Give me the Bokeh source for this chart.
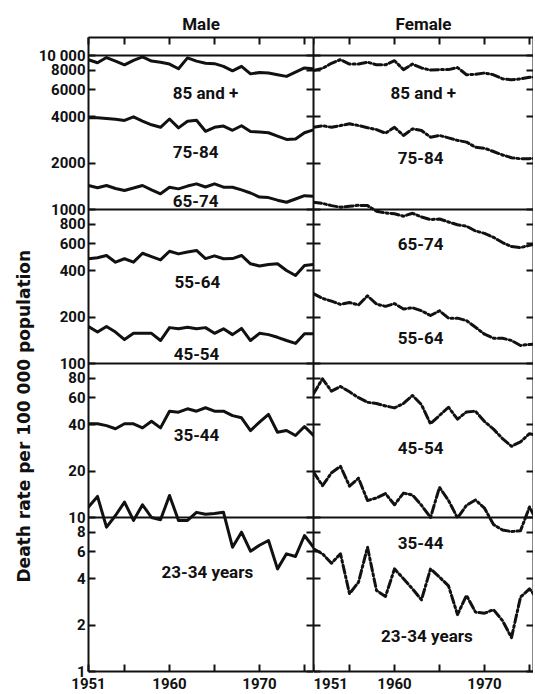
from bokeh.plotting import figure
from bokeh.models import (Range1d, FixedTicker, Span, Title, LogAxis, LinearAxis,
                          CustomLabelingPolicy, CustomJSTickFormatter)
from bokeh.layouts import row
from bokeh.embed import file_html
from bokeh.resources import INLINE
from bokeh.core.properties import value

FONT = "Roboto"
LABEL_FONT = "DejaVu Sans"

years = list(range(1951, 1977))

# ---- Male death rates per 100 000 ----
male_85_plus = [9380, 8970, 9700, 9190, 8700, 9300, 9800, 9200, 9050, 8800, 8200, 9650, 9200,
                8900, 8850, 8500, 7950, 8500, 7600, 7750, 7700, 7500, 7320, 7800, 8300, 8200]
male_75_84 = [3940, 3940, 3900, 3850, 3790, 4000, 3750, 3550, 3420, 3870, 3390, 3740, 3800,
              3220, 3420, 3480, 3270, 3500, 3210, 3190, 3150, 3000, 2850, 2870, 3150, 3290]
male_65_74 = [1432, 1384, 1432, 1370, 1330, 1380, 1432, 1342, 1265, 1396, 1362, 1420, 1468,
              1400, 1468, 1396, 1396, 1340, 1280, 1205, 1195, 1150, 1115, 1170, 1230, 1220]
male_55_64 = [479, 486, 503, 455, 479, 455, 520, 495, 471, 536, 515, 530, 542,
              480, 500, 479, 480, 503, 444, 430, 440, 444, 402, 373, 433, 440]
male_45_54 = [174, 160, 174, 160, 143, 157, 157, 157, 141, 171, 168, 172, 168,
              171, 157, 168, 154, 169, 141, 157, 154, 148, 141, 135, 156, 156]
male_35_44 = [40.6, 40.6, 39.5, 37.7, 40.6, 40.6, 38.2, 42.2, 38.2, 49.0, 48.3, 50.8, 49.0,
              51.6, 49.0, 49.0, 45.9, 44.4, 36.7, 41.6, 46.7, 35.8, 36.7, 34.1, 39.0, 34.1]
male_23_34 = [11.7, 13.7, 8.65, 10.3, 12.6, 9.57, 12.1, 10.0, 9.66, 13.9, 9.57, 9.57, 10.8,
              10.5, 10.6, 10.8, 6.41, 8.03, 6.04, 6.6, 7.09, 4.64, 5.81, 5.58, 7.64, 6.41]

# ---- Female death rates per 100 000 ----
female_85_plus = [8000, 8250, 8900, 9400, 8800, 8800, 9050, 8700, 8700, 9250, 8100, 8800, 8300,
                  8050, 8100, 8100, 8350, 7500, 7550, 7700, 7500, 7060, 6960, 7050, 7230, 7250]
female_75_84 = [3420, 3500, 3420, 3510, 3600, 3510, 3400, 3300, 3130, 3420, 3025, 3340, 3260,
                2950, 3025, 2920, 2810, 2740, 2540, 2500, 2380, 2260, 2170, 2135, 2140, 2160]
female_65_74 = [1115, 1095, 1060, 1035, 1050, 1065, 1060, 975, 950, 938, 905, 945, 895,
                860, 868, 830, 796, 780, 725, 700, 660, 610, 575, 566, 585, 605]
female_55_64 = [284, 265, 254, 242, 249, 240, 275, 243, 235, 245, 226, 230, 220,
                205, 220, 197, 197, 190, 172, 155, 146, 146, 141, 131, 133, 134]
female_45_54 = [63.6, 79.6, 66.1, 71.0, 65.5, 60.0, 56.0, 55.0, 53.0, 51.5, 55.0, 62.0, 54.0,
                40.6, 46.0, 52.0, 43.5, 48.5, 49.0, 42.0, 37.5, 32.5, 29.0, 31.0, 35.0, 34.0]
female_35_44 = [19.7, 16.1, 19.5, 21.5, 16.0, 18.0, 12.9, 13.4, 14.3, 12.1, 14.4, 14.0, 12.0,
                10.0, 15.7, 12.9, 9.95, 12.0, 13.0, 11.5, 9.0, 8.3, 8.1, 8.2, 11.7, 9.0]
female_23_34 = [6.26, 5.81, 5.05, 5.81, 3.20, 3.80, 6.41, 3.36, 3.07, 4.64, 4.00, 3.44, 2.92,
                4.64, 4.1, 3.6, 2.34, 3.12, 2.43, 2.39, 2.52, 2.14, 1.66, 3.04, 3.44, 2.9]

age_groups = ["85 and +", "75-84", "65-74", "55-64", "45-54", "35-44", "23-34 years"]
male_series = [male_85_plus, male_75_84, male_65_74, male_55_64, male_45_54, male_35_44, male_23_34]
female_series = [female_85_plus, female_75_84, female_65_74, female_55_64, female_45_54,
                 female_35_44, female_23_34]

# label anchor points (year, rate)
male_label_x = [1964.0, 1962.9, 1962.9, 1963.1, 1963.0, 1963.0, 1964.2]
male_label_y = [5750, 2380, 1130, 336, 116, 34.1, 4.4]
female_label_x = [1963.2, 1962.9, 1962.9, 1962.9, 1962.9, 1962.9, 1963.6]
female_label_y = [5750, 2175, 601, 147, 28.1, 6.88, 1.71]

y_ticks = [1, 2, 4, 6, 8, 10, 20, 40, 60, 80, 100, 200, 400, 600, 800,
           1000, 2000, 4000, 6000, 8000, 10000]
y_tick_labels = {t: ("10 000" if t == 10000 else str(t)) for t in y_ticks}
x_ticks = [1951, 1955, 1960, 1965, 1970, 1975]
x_tick_labels = {1951: "1951", 1955: "", 1960: "1960", 1965: "", 1970: "1970", 1975: ""}
decade_lines = [10, 100, 1000, 10000]

Y_MIN, Y_MAX = 1, 10 ** 4.117
FRAME_H = 634
INK = "#111111"

NO_LABELS = "for (const i of indices) { indices.unset(i) }\nreturn indices"


def style_axis(ax, ticks, labels=None, show_labels=True):
    ax.ticker = FixedTicker(ticks=ticks)
    ax.axis_line_width = 2
    ax.axis_line_color = INK
    ax.major_tick_in = 7
    ax.major_tick_out = 0
    ax.major_tick_line_width = 2
    ax.major_tick_line_color = INK
    ax.minor_tick_line_color = None
    ax.major_label_text_font = FONT
    ax.major_label_text_font_style = "bold"
    ax.major_label_text_color = INK
    if show_labels:
        ax.major_label_text_font_size = "15px"
        if labels is not None:
            ax.major_label_overrides = labels
    else:
        ax.formatter = CustomJSTickFormatter(code="return ''")
        ax.major_label_text_font_size = "1px"
        ax.major_label_standoff = 0
        ax.major_label_policy = CustomLabelingPolicy(code=NO_LABELS)


def make_panel(title, x_end, frame_w, series, lx, ly, dash, is_left):
    p = figure(frame_width=frame_w, frame_height=FRAME_H, y_axis_type="log",
               x_range=Range1d(1951, x_end), y_range=Range1d(Y_MIN, Y_MAX),
               output_backend="svg", toolbar_location=None, title=title,
               min_border_left=88 if is_left else 0, min_border_right=0,
               min_border_top=37, min_border_bottom=0)
    p.outline_line_color = None
    p.grid.visible = False
    p.background_fill_color = "white"
    p.border_fill_color = "white"
    p.title.align = "center"
    p.title.text_font = FONT
    p.title.text_font_size = "17px"
    p.title.text_font_style = "bold"
    p.title.text_color = INK
    p.title.standoff = 7

    style_axis(p.xaxis[0], x_ticks, x_tick_labels, True)
    p.xaxis[0].major_label_standoff = 6
    style_axis(p.yaxis[0], y_ticks, y_tick_labels, is_left)
    if is_left:
        p.yaxis[0].major_label_standoff = 3

    top = LinearAxis()
    style_axis(top, x_ticks, None, False)
    p.add_layout(top, "above")
    right = LogAxis()
    style_axis(right, y_ticks, None, False)
    p.add_layout(right, "right")

    for loc in decade_lines:
        p.add_layout(Span(location=loc, dimension="width", line_color=INK, line_width=2))

    for s in series:
        p.line(years, s, line_color=INK, line_width=3, line_dash=dash,
               line_join="round", line_cap="round")

    p.text(x=lx, y=ly, text=age_groups, text_font=value(FONT), text_font_size="17px",
           text_font_style="bold", text_color=INK, text_align="center",
           text_baseline="middle")
    return p


p_male = make_panel("Male", 1976, 225, male_series, male_label_x, male_label_y, "solid", True)
p_female = make_panel("Female", 1951 + 220 / 9.0, 220, female_series, female_label_x,
                      female_label_y, "8 3 2 3", False)

ylab = Title(text="Death rate per 100 000 population", align="left", offset=89,
             text_font=LABEL_FONT, text_font_size="17px", text_font_style="bold",
             text_color=INK, standoff=4)
p_male.add_layout(ylab, "left")

layout = row(p_male, p_female)
open("out.html", "w").write(file_html(layout, INLINE))
